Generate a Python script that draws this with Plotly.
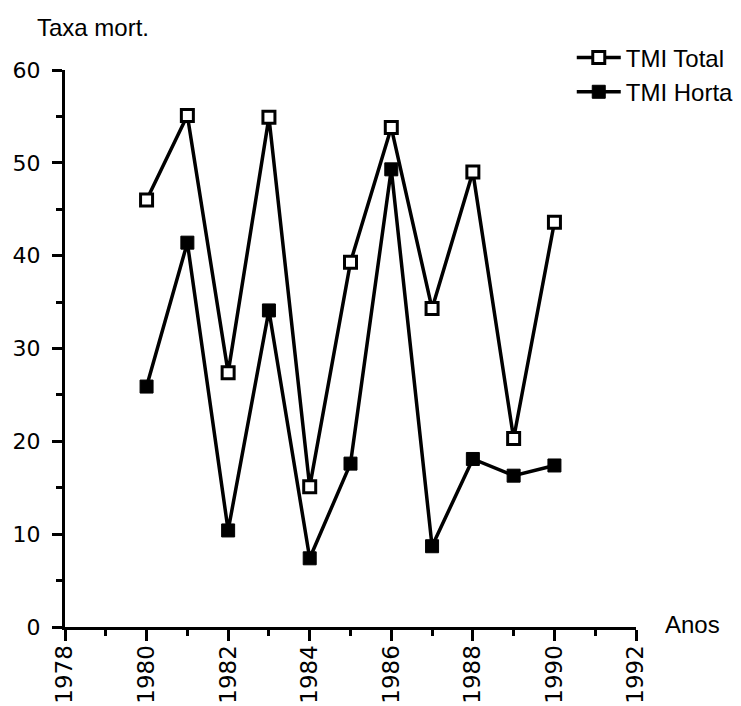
import plotly.graph_objects as go

years = [1980, 1981, 1982, 1983, 1984, 1985, 1986, 1987, 1988, 1989, 1990]
tmi_total = [46.0, 55.1, 27.4, 54.9, 15.1, 39.3, 53.8, 34.3, 49.0, 20.3, 43.6]
tmi_horta = [25.9, 41.4, 10.4, 34.1, 7.4, 17.6, 49.3, 8.7, 18.1, 16.3, 17.4]
x_ticks = [1978, 1980, 1982, 1984, 1986, 1988, 1990, 1992]
y_ticks = [0, 10, 20, 30, 40, 50, 60]

FONT = "Liberation Sans, Arial, Helvetica, sans-serif"
TICKFONT = "DejaVu Sans, sans-serif"
FS = 24

fig = go.Figure()
fig.add_trace(go.Scatter(
    x=years, y=tmi_total, name="TMI Total", mode="lines+markers",
    line=dict(color="black", width=3.5),
    marker=dict(symbol="square", size=12, color="white",
                line=dict(color="black", width=3)),
))
fig.add_trace(go.Scatter(
    x=years, y=tmi_horta, name="TMI Horta", mode="lines+markers",
    line=dict(color="black", width=3.5),
    marker=dict(symbol="square", size=13, color="black",
                line=dict(color="black", width=1)),
))

fig.update_layout(
    width=741, height=706, autosize=False,
    margin=dict(l=65, r=105, t=70, b=79, autoexpand=False),
    paper_bgcolor="white", plot_bgcolor="white",
    font=dict(family=FONT, size=FS, color="black"),
    showlegend=True,
    legend=dict(x=0.8875, y=1.062, xanchor="left", yanchor="top",
                bgcolor="rgba(0,0,0,0)", itemwidth=44,
                font=dict(family=FONT, size=FS, color="black")),
    xaxis=dict(range=[1978, 1992], tickvals=x_ticks,
               ticktext=[str(v) for v in x_ticks], tickangle=-90,
               showline=True, linecolor="black", linewidth=3,
               ticks="outside", ticklen=11, tickwidth=3, tickcolor="black",
               minor=dict(dtick=1, ticks="outside", ticklen=6, tickwidth=2.5,
                          tickcolor="black", showgrid=False),
               showgrid=False, zeroline=False, ticklabelstandoff=-5,
               automargin=False,
               tickfont=dict(family=TICKFONT, size=23, color="black")),
    yaxis=dict(range=[0, 60], tickvals=y_ticks,
               showline=True, linecolor="black", linewidth=3,
               ticks="outside", ticklen=10, tickwidth=3, tickcolor="black",
               minor=dict(dtick=5, ticks="outside", ticklen=6, tickwidth=2.5,
                          tickcolor="black", showgrid=False),
               showgrid=False, zeroline=False, ticklabelstandoff=7,
               automargin=False,
               tickfont=dict(family=TICKFONT, size=22, color="black")),
    annotations=[
        dict(text="Taxa mort.", xref="paper", yref="paper", x=-0.0525, y=1.077,
             xanchor="left", yanchor="middle", showarrow=False,
             font=dict(family=FONT, size=FS, color="black")),
        dict(text="Anos", xref="paper", yref="paper", x=1.047, y=0.004,
             xanchor="left", yanchor="middle", showarrow=False,
             font=dict(family=FONT, size=FS, color="black")),
    ],
)

fig.write_html("out.html",
               config={"displayModeBar": False},
               post_script="document.body.style.margin='0';document.body.style.overflow='hidden';")
